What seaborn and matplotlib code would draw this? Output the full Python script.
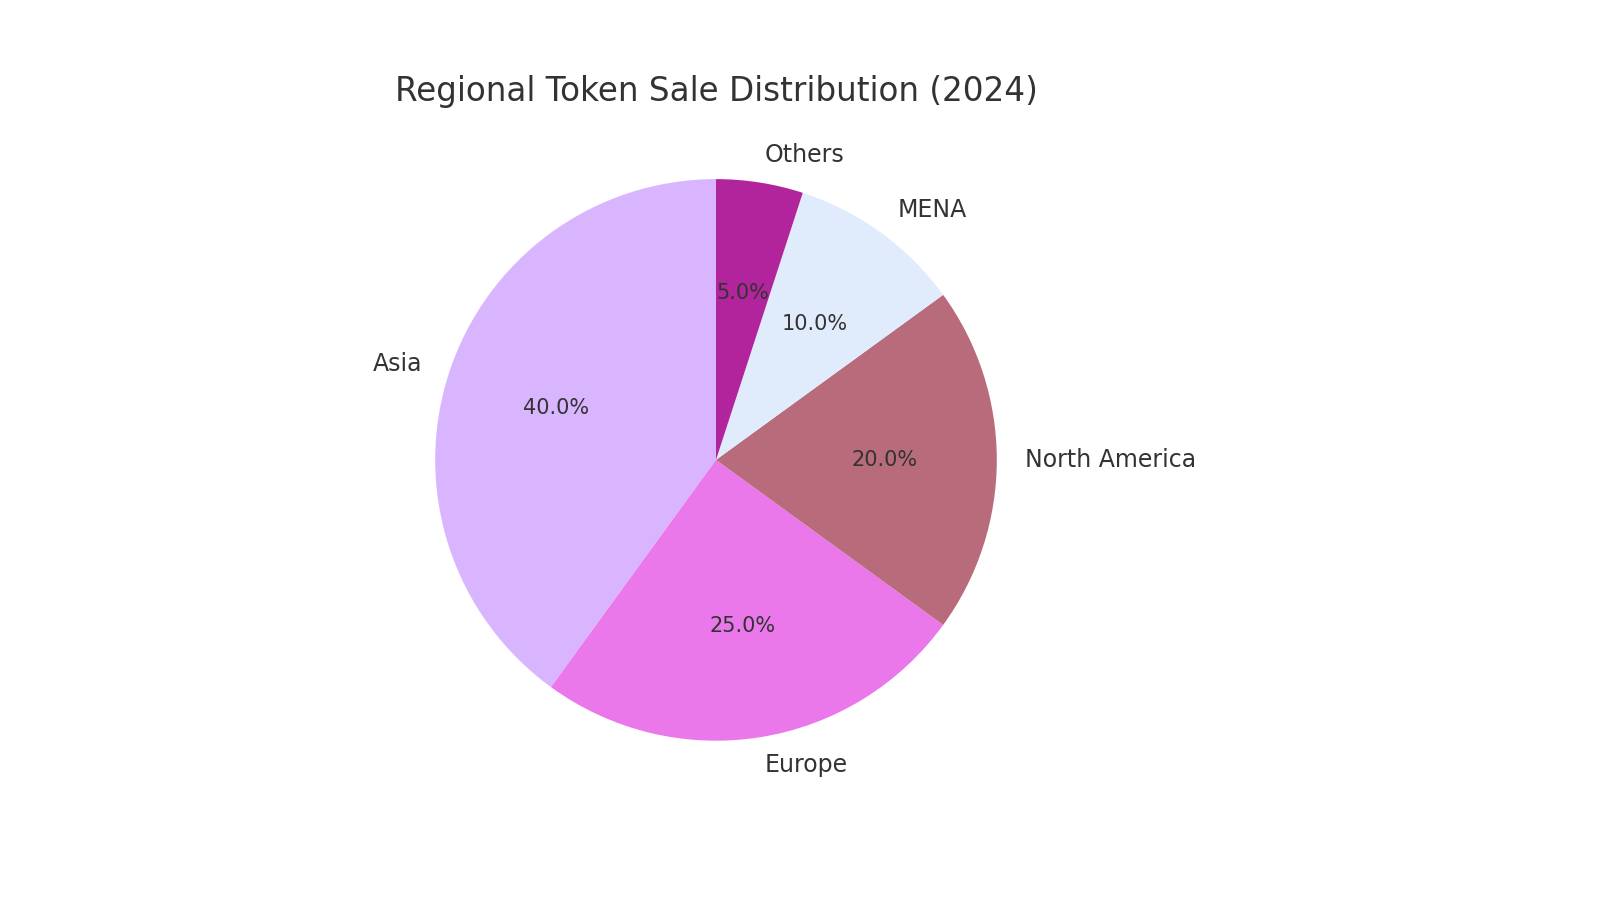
import matplotlib
matplotlib.use("Agg")
import matplotlib.pyplot as plt
import seaborn as sns

sns.set_theme(style="white")
plt.rcParams['font.family'] = ['DejaVu Sans']

regions = ["Asia", "Europe", "North America", "MENA", "Others"]
shares = [40, 25, 20, 10, 5]
colors = ["#dab5ff", "#ea78ea", "#b86b7a", "#e0ebfc", "#b2249c"]

fig = plt.figure(figsize=(16, 9), dpi=100)
ax = fig.add_axes([0.228, 0.099, 0.439, 0.78])
ax.pie(shares, labels=regions, colors=colors, autopct="%1.1f%%", startangle=90,
       wedgeprops={"linewidth": 0},
       textprops={"fontsize": 17, "color": "#333333"})
for t in ax.texts:
    if t.get_text().endswith("%"):
        t.set_fontsize(15)
ax.set_aspect("equal")
ax.set_title("Regional Token Sale Distribution (2024)", fontsize=23.5, color="#333333", pad=6)
fig.savefig("out.png")
